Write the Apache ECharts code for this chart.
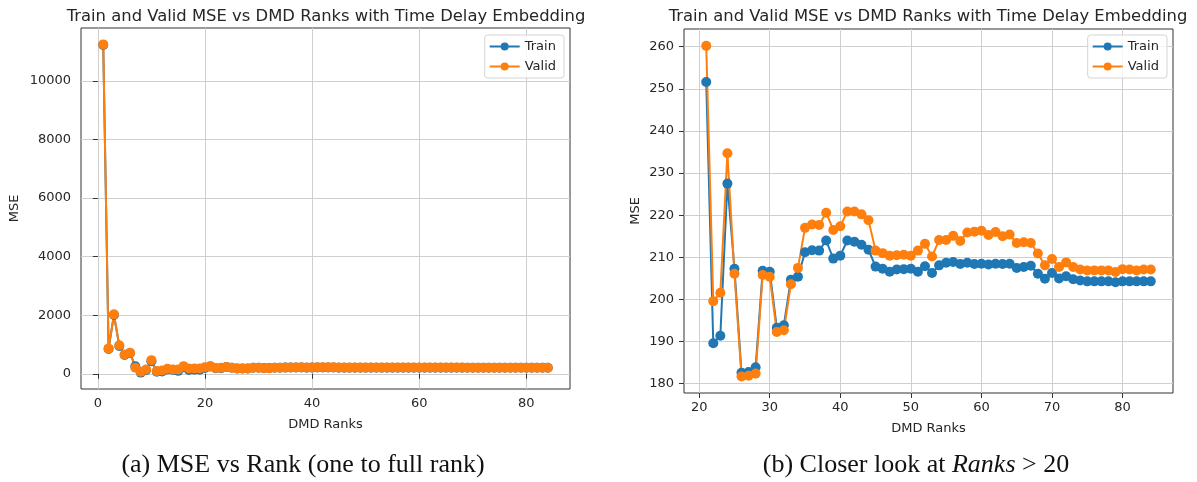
<!DOCTYPE html>
<html>
<head>
<meta charset="utf-8">
<script src="https://cdn.jsdelivr.net/npm/echarts@6/dist/echarts.min.js"></script>
<style>
  html, body { margin: 0; padding: 0; background: #ffffff; }
  #chart { width: 1197px; height: 482px; }
</style>
</head>
<body>
<div id="chart"></div>
<script>
// DMD ranks evaluated (one to full rank)
const ranks = [
  1, 2, 3, 4, 5, 6, 7, 8, 9, 10, 11, 12, 13, 14, 15, 16, 17, 18, 19, 20,
  21, 22, 23, 24, 25, 26, 27, 28, 29, 30, 31, 32, 33, 34, 35, 36, 37, 38, 39, 40,
  41, 42, 43, 44, 45, 46, 47, 48, 49, 50, 51, 52, 53, 54, 55, 56, 57, 58, 59, 60,
  61, 62, 63, 64, 65, 66, 67, 68, 69, 70, 71, 72, 73, 74, 75, 76, 77, 78, 79, 80,
  81, 82, 83, 84
];

// Training-set MSE per rank
const trainMSE = [
  11230, 850, 2010, 950, 640, 700, 260, 40, 120, 430, 70, 80, 150, 130, 100, 220, 130, 140, 140, 200,
  251.6, 189.6, 191.4, 227.5, 207.3, 182.6, 182.8, 183.9, 206.8, 206.6, 193.3, 193.9, 204.7, 205.4, 211.2, 211.7, 211.6, 214.0, 209.7, 210.4,
  214.0, 213.7, 213.0, 211.8, 207.8, 207.3, 206.6, 207.1, 207.2, 207.3, 206.6, 207.9, 206.3, 208.1, 208.7, 208.9, 208.4, 208.7, 208.4, 208.5,
  208.3, 208.5, 208.4, 208.5, 207.5, 207.7, 208.0, 206.1, 204.9, 206.3, 205.0, 205.5, 204.8, 204.5, 204.3, 204.3, 204.3, 204.3, 204.1, 204.3,
  204.3, 204.3, 204.3, 204.3
];

// Validation-set MSE per rank
const validMSE = [
  11250, 860, 2030, 975, 660, 715, 205, 68, 148, 466, 91, 114, 170, 148, 148, 261, 180, 180, 180, 227,
  260.2, 199.6, 201.6, 234.7, 206.1, 181.7, 181.9, 182.4, 205.8, 205.4, 192.3, 192.7, 203.6, 207.5, 217.0, 217.8, 217.7, 220.6, 216.5, 217.4,
  220.9, 220.9, 220.2, 218.8, 211.6, 211.0, 210.4, 210.5, 210.6, 210.4, 211.6, 213.2, 210.2, 214.1, 214.1, 215.1, 213.9, 215.9, 216.1, 216.3,
  215.3, 216.0, 215.0, 215.4, 213.4, 213.6, 213.4, 210.9, 208.1, 209.6, 207.7, 208.8, 207.7, 207.1, 206.9, 206.9, 206.9, 206.9, 206.5, 207.2,
  207.1, 206.9, 207.1, 207.1
];

// The close-up panel starts at this rank
const zoomStartRank = 21;

// Tick positions
const xTicksFull = [0, 20, 40, 60, 80];
const yTicksFull = [0, 2000, 4000, 6000, 8000, 10000];
const xTicksZoom = [20, 30, 40, 50, 60, 70, 80];
const yTicksZoom = [180, 190, 200, 210, 220, 230, 240, 250, 260];

// Axis limits (5% padding around the data)
const xLimitsFull = [-3.15, 88.15];
const yLimitsFull = [-520, 11810];
const xLimitsZoom = [17.85, 87.15];
const yLimitsZoom = [177.8, 264.2];

const titleText = 'Train and Valid MSE vs DMD Ranks with Time Delay Embedding';
const xName = 'DMD Ranks';
const yName = 'MSE';
const seriesNames = ['Train', 'Valid'];
const captionA = '(a) MSE vs Rank (one to full rank)';
const captionB = ['(b) Closer look at ', 'Ranks', ' > 20'];

const BLUE = '#1f77b4';
const ORANGE = '#ff7f0e';
const TEXT = '#262626';
const SANS = 'DejaVu Sans';

function pairs(values, fromRank) {
  const out = [];
  for (let i = 0; i < ranks.length; i++) {
    if (ranks[i] >= fromRank) out.push([ranks[i], values[i]]);
  }
  return out;
}

function plainNumber(v) { return String(v); }

function xAxisCfg(idx, limits, ticks) {
  return {
    type: 'value', gridIndex: idx, min: limits[0], max: limits[1],
    name: xName, nameLocation: 'middle', nameGap: 29,
    nameTextStyle: { fontFamily: SANS, fontSize: 13, color: TEXT },
    axisLine: { show: false },
    axisTick: { show: true, length: 5, customValues: ticks, lineStyle: { color: '#333', width: 1 } },
    axisLabel: { customValues: ticks, formatter: plainNumber, margin: 8, fontFamily: SANS, fontSize: 13, color: TEXT },
    splitLine: { show: true, lineStyle: { color: '#cfcfcf', width: 1 } }
  };
}

function yAxisCfg(idx, limits, ticks, gap) {
  return {
    type: 'value', gridIndex: idx, min: limits[0], max: limits[1],
    name: yName, nameLocation: 'middle', nameGap: gap, nameRotate: 90,
    nameTextStyle: { fontFamily: SANS, fontSize: 13, color: TEXT },
    axisLine: { show: false },
    axisTick: { show: true, length: 5, customValues: ticks, lineStyle: { color: '#333', width: 1 } },
    axisLabel: { customValues: ticks, formatter: plainNumber, margin: 10, fontFamily: SANS, fontSize: 13, color: TEXT },
    splitLine: { show: true, lineStyle: { color: '#cfcfcf', width: 1 } }
  };
}

function lineSeries(name, color, data, idx) {
  return {
    type: 'line', name: name, xAxisIndex: idx, yAxisIndex: idx, data: data,
    symbol: 'circle', symbolSize: 10, showSymbol: true, showAllSymbol: true,
    lineStyle: { color: color, width: 2 },
    itemStyle: { color: color },
    emphasis: { disabled: true },
    clip: false
  };
}

function legendCfg(right) {
  return {
    orient: 'vertical', right: right, top: 35, data: seriesNames,
    itemWidth: 30, itemHeight: 10, itemGap: 7,
    textStyle: { fontFamily: SANS, fontSize: 13, color: TEXT },
    borderColor: '#d4d4d4', borderWidth: 1, borderRadius: 3,
    backgroundColor: 'rgba(255,255,255,0.8)',
    padding: [5, 8, 5, 4],
    selectedMode: false
  };
}

const chart = echarts.init(document.getElementById('chart'), null, { renderer: 'canvas' });

chart.setOption({
  backgroundColor: '#ffffff',
  animation: false,
  title: [
    { text: titleText, left: 321, top: 4, textAlign: 'center',
      textStyle: { fontFamily: SANS, fontSize: 16.4, fontWeight: 'normal', color: TEXT } },
    { text: titleText, left: 923, top: 4, textAlign: 'center',
      textStyle: { fontFamily: SANS, fontSize: 16.4, fontWeight: 'normal', color: TEXT } }
  ],
  legend: [legendCfg(633), legendCfg(30)],
  grid: [
    { left: 81, top: 28, width: 489, height: 361, show: true, borderColor: '#333', borderWidth: 1, backgroundColor: 'transparent' },
    { left: 684, top: 29, width: 489, height: 364, show: true, borderColor: '#333', borderWidth: 1, backgroundColor: 'transparent' }
  ],
  xAxis: [xAxisCfg(0, xLimitsFull, xTicksFull), xAxisCfg(1, xLimitsZoom, xTicksZoom)],
  yAxis: [yAxisCfg(0, yLimitsFull, yTicksFull, 60), yAxisCfg(1, yLimitsZoom, yTicksZoom, 42)],
  series: [
    lineSeries(seriesNames[0], BLUE, pairs(trainMSE, ranks[0]), 0),
    lineSeries(seriesNames[1], ORANGE, pairs(validMSE, ranks[0]), 0),
    lineSeries(seriesNames[0], BLUE, pairs(trainMSE, zoomStartRank), 1),
    lineSeries(seriesNames[1], ORANGE, pairs(validMSE, zoomStartRank), 1)
  ],
  graphic: [
    { type: 'text', x: 303, y: 465,
      style: { text: captionA, font: '26px "Liberation Serif"', fill: '#111', align: 'center', verticalAlign: 'middle' } },
    { type: 'text', x: 916, y: 465,
      style: {
        text: '{n|' + captionB[0] + '}{i|' + captionB[1] + '}{n|' + captionB[2] + '}',
        align: 'center', verticalAlign: 'middle',
        rich: {
          n: { fontFamily: 'Liberation Serif', fontSize: 26, fill: '#111' },
          i: { fontFamily: 'Liberation Serif', fontSize: 26, fontStyle: 'italic', fill: '#111' }
        }
      } }
  ]
});
</script>
</body>
</html>
